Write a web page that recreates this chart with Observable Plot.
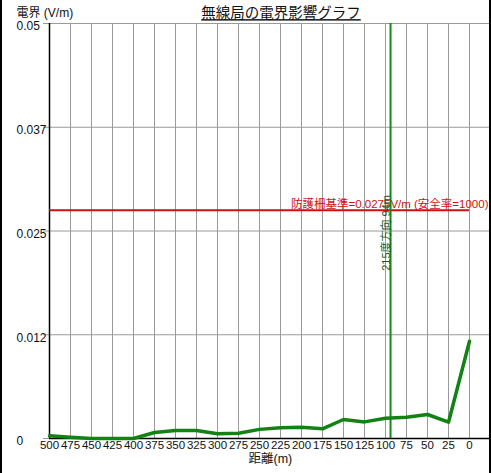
<!DOCTYPE html>
<html>
<head>
<meta charset="utf-8">
<script src="https://cdn.jsdelivr.net/npm/d3@7"></script>
<script src="https://cdn.jsdelivr.net/npm/@observablehq/plot@0.6"></script>
<style>
  html, body { margin: 0; padding: 0; background: #fff; }
  #wrap { position: relative; width: 491px; height: 473px; overflow: hidden; }
  #edge { position: absolute; left: 0; top: 0; width: 491px; height: 473px; box-sizing: border-box;
          border-left: 2px solid #000; border-right: 2px solid #000; pointer-events: none; }
</style>
</head>
<body>
<div id="wrap"><div id="chart"></div><div id="edge"></div></div>
<script>
// 距離 (m) と電界強度 (V/m)
const distances = [500, 475, 450, 425, 400, 375, 350, 325, 300, 275, 250, 225, 200, 175, 150, 125, 100, 75, 50, 25, 0];
const fieldValues = [0.00033, 0.00016, 0, 0, 0, 0.00072, 0.00096, 0.00096, 0.00057, 0.00064, 0.0011, 0.0013, 0.00136, 0.00117, 0.00229, 0.0020, 0.00245, 0.00257, 0.00289, 0.00196, 0.01172];

const xTicks = [500, 475, 450, 425, 400, 375, 350, 325, 300, 275, 250, 225, 200, 175, 150, 125, 100, 75, 50, 25, 0];
const yTicks = [0, 0.0125, 0.025, 0.0375, 0.05];
const yTickLabels = ["0", "0.012", "0.025", "0.037", "0.05"];

// 防護柵基準と方向線
const fenceLevel = [0.0275];
const fenceLabel = ["防護柵基準=0.0275V/m (安全率=1000)"];
const bearingDistance = [94];
const bearingLabel = ["215度方向 94m"];

const title = "無線局の電界影響グラフ";
const yTitle = "電界 (V/m)";
const xTitle = "距離(m)";

const font = "'Liberation Sans', Arial, 'Noto Sans CJK JP', sans-serif";
const data = distances.map((d, i) => ({d, v: fieldValues[i]}));
const grid = "#9a9a9a";

const chart = Plot.plot({
  width: 491,
  height: 473,
  marginLeft: 49,
  marginRight: 1,
  marginTop: 23,
  marginBottom: 35,
  style: {fontFamily: font, background: "#fff", color: "#111"},
  x: {domain: [500, -25], axis: null},
  y: {domain: [0, 0.05], axis: null},
  marks: [
    // grid
    Plot.ruleX(xTicks.filter(t => t !== 500), {x: d => d, y1: 0, y2: 0.05, stroke: grid, strokeWidth: 1}),
    Plot.ruleY(yTicks.filter(t => t > 0), {y: d => d, x1: 500, x2: -25, stroke: grid, strokeWidth: 1}),
    // y ticks and labels
    Plot.axisY({ticks: yTicks, tickSize: 6, tickFormat: () => "", label: null, stroke: grid}),
    Plot.text(yTicks, {
      x: 500, y: d => d, text: (d, i) => yTickLabels[i],
      textAnchor: "start", dx: -33, dy: 3, fontSize: 12, fill: "#111"
    }),
    // x tick labels
    Plot.text(xTicks, {
      x: d => d, y: 0, text: d => String(d), lineAnchor: "top", dy: 2, fontSize: 11.5, fill: "#111"
    }),
    // axes
    Plot.ruleY([0], {x1: 500, x2: -25, stroke: "#000", strokeWidth: 1.5}),
    Plot.ruleX([500], {y1: 0, y2: 0.05, stroke: "#000", strokeWidth: 1.5}),
    // fence level
    Plot.ruleY(fenceLevel, {y: d => d, x1: 500, x2: 0, stroke: "#cc1010", strokeWidth: 2}),
    Plot.text(fenceLevel, {
      x: -25, y: d => d, text: (d, i) => fenceLabel[i], textAnchor: "end", lineAnchor: "bottom",
      dx: -2, dy: -2, fontSize: 11.5, fill: "#d01010"
    }),
    // bearing line
    Plot.ruleX(bearingDistance, {x: d => d, y1: 0, y2: 0.05, stroke: "#138a13", strokeWidth: 2}),
    Plot.text(bearingDistance, {
      x: d => d, y: 0.0202, text: (d, i) => bearingLabel[i], rotate: -90,
      textAnchor: "start", lineAnchor: "bottom", dx: -1, fontSize: 11, fill: "#1a5a1a"
    }),
    // field strength
    Plot.line(data, {x: "d", y: "v", stroke: "#128212", strokeWidth: 3.5, strokeLinejoin: "round"}),
    // titles
    Plot.text([title], {frameAnchor: "top", text: d => d, dx: 11, dy: -10, lineAnchor: "middle", fontSize: 14.5, fill: "#111", className: "main-title"}),
    Plot.text([yTitle], {frameAnchor: "top-left", text: d => d, dx: -33, dy: -10, lineAnchor: "middle", textAnchor: "start", fontSize: 12, fill: "#111"}),
    Plot.text([xTitle], {frameAnchor: "bottom-left", text: d => d, dx: 199, dy: 20, lineAnchor: "middle", textAnchor: "start", fontSize: 12.5, fill: "#111"})
  ]
});

d3.select(chart).selectAll(".main-title text").attr("text-decoration", "underline");
document.getElementById("chart").appendChild(chart);
</script>
</body>
</html>
